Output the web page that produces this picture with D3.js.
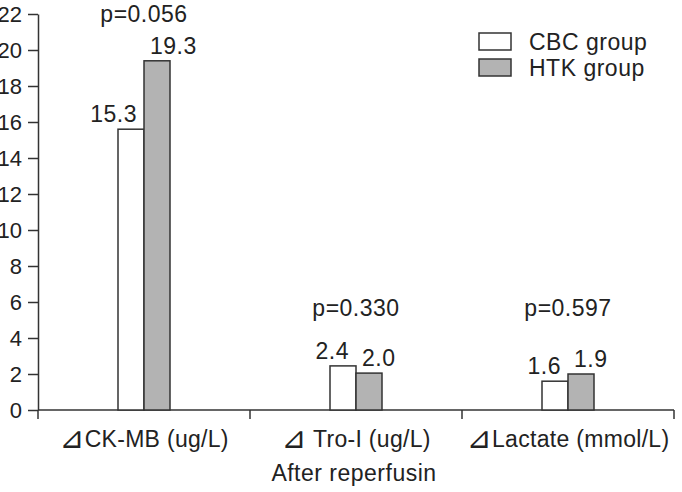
<!DOCTYPE html>
<html>
<head>
<meta charset="utf-8">
<script src="https://cdn.jsdelivr.net/npm/d3@7"></script>
<style>
  body { margin: 0; background: #fff; }
  svg text { font-family: "Liberation Sans", Arial, sans-serif; fill: #222; }
</style>
</head>
<body>
<svg id="chart" width="682" height="492"></svg>
<script>
const categories = ['⊿CK-MB (ug/L)', '⊿ Tro-I (ug/L)', '⊿Lactate (mmol/L)'];
const groups = ['CBC group', 'HTK group'];
const cbcValues = [15.6, 2.45, 1.6];
const htkValues = [19.4, 2.05, 2.0];
const cbcLabels = ['15.3', '2.4', '1.6'];
const htkLabels = ['19.3', '2.0', '1.9'];
const pValues = ['p=0.056', 'p=0.330', 'p=0.597'];
const yTicks = [0, 2, 4, 6, 8, 10, 12, 14, 16, 18, 20, 22];
const xTitle = 'After reperfusin';

const svg = d3.select('#chart');
const fs = 23;
const axisColor = '#333';
const fills = ['#ffffff', '#b3b3b3'];

const x = d3.scaleBand().domain(categories).range([38, 674]);
const y = d3.scaleLinear().domain([0, 22]).range([410, 14]);
const xs = d3.scaleBand().domain(groups)
    .range([x.bandwidth() / 2 - 26, x.bandwidth() / 2 + 26]);

// y axis
const gy = svg.append('g').attr('transform', 'translate(38,0)')
    .call(d3.axisLeft(y).tickValues(yTicks).tickSizeInner(10).tickSizeOuter(0).tickPadding(6));
gy.select('.domain').attr('stroke', axisColor).attr('stroke-width', 1.5);
gy.selectAll('.tick line').attr('stroke', axisColor).attr('stroke-width', 1.5);
gy.selectAll('.tick text').attr('font-size', 22).attr('font-family', '"Liberation Sans", Arial, sans-serif').attr('fill', '#222');

// x axis line + boundary ticks
svg.append('line')
    .attr('x1', x.range()[0]).attr('x2', x.range()[1])
    .attr('y1', y(0)).attr('y2', y(0))
    .attr('stroke', axisColor).attr('stroke-width', 1.5);
const edges = categories.map(c => x(c)).concat([x.range()[1]]);
svg.selectAll('.xtick').data(edges).enter().append('line')
    .attr('x1', d => d).attr('x2', d => d)
    .attr('y1', y(0)).attr('y2', y(0) + 9)
    .attr('stroke', axisColor).attr('stroke-width', 1.5);

// category labels, the delta sign drawn a bit larger
const cat = svg.selectAll('.cat').data(categories).enter().append('text')
    .attr('x', d => x(d) + x.bandwidth() / 2)
    .attr('y', 447)
    .attr('text-anchor', 'middle')
    .attr('font-size', fs)
    .attr('letter-spacing', 0.3);
cat.append('tspan')
    .attr('font-size', 30)
    .attr('font-family', '"DejaVu Sans", sans-serif')
    .attr('dy', 1)
    .text(d => d.slice(0, 1));
cat.append('tspan')
    .attr('dy', -1)
    .text(d => d.slice(1));

svg.append('text')
    .attr('x', x(categories[1]) + x.bandwidth() / 2 - 2)
    .attr('y', 481)
    .attr('text-anchor', 'middle')
    .attr('font-size', fs)
    .attr('letter-spacing', 0.5)
    .text(xTitle);

// bars
const series = [cbcValues, htkValues];
const labels = [cbcLabels, htkLabels];
series.forEach((vals, gi) => {
    svg.selectAll('.bar-' + gi).data(vals).enter().append('rect')
        .attr('x', (d, i) => x(categories[i]) + xs(groups[gi]))
        .attr('y', d => y(d))
        .attr('width', xs.bandwidth())
        .attr('height', d => y(0) - y(d))
        .attr('fill', fills[gi])
        .attr('stroke', axisColor)
        .attr('stroke-width', 1.5);
    svg.selectAll('.lab-' + gi).data(vals).enter().append('text')
        .attr('x', (d, i) => gi === 0
            ? x(categories[i]) + xs(groups[0]) + xs.bandwidth() - 7
            : x(categories[i]) + xs(groups[1]) + 6)
        .attr('y', d => y(d) - 7)
        .attr('text-anchor', gi === 0 ? 'end' : 'start')
        .attr('font-size', fs)
        .attr('letter-spacing', 0.5)
        .text((d, i) => labels[gi][i]);
});

// p values
const pY = [22, 316, 316];
svg.selectAll('.pval').data(pValues).enter().append('text')
    .attr('x', (d, i) => x(categories[i]) + x.bandwidth() / 2)
    .attr('y', (d, i) => pY[i])
    .attr('text-anchor', 'middle')
    .attr('font-size', fs)
    .attr('letter-spacing', 0.5)
    .text(d => d);

// legend
const lg = svg.append('g').attr('transform', 'translate(479,33)');
groups.forEach((g, i) => {
    lg.append('rect')
        .attr('x', 0).attr('y', i * 26)
        .attr('width', 32).attr('height', 17)
        .attr('fill', fills[i])
        .attr('stroke', axisColor).attr('stroke-width', 1.5);
    lg.append('text')
        .attr('x', 50).attr('y', i * 26 + 17)
        .attr('font-size', fs)
        .attr('letter-spacing', 0.5)
        .text(g);
});
</script>
</body>
</html>
